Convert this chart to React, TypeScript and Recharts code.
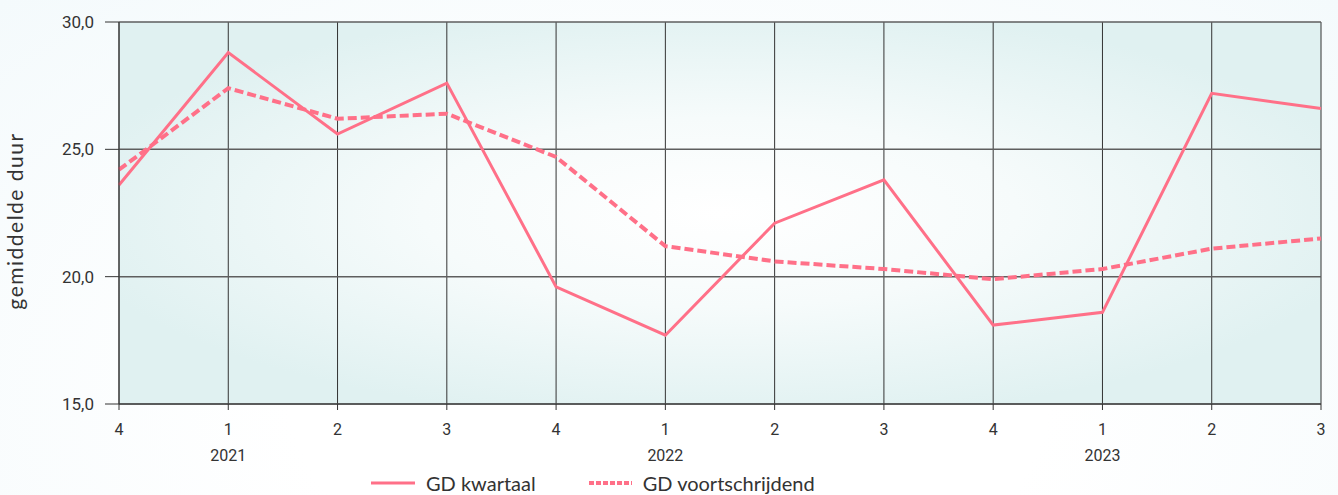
import {
  CartesianGrid,
  Legend,
  Line,
  LineChart,
  XAxis,
  YAxis,
} from "recharts";

const periods = [
  "2020-4", "2021-1", "2021-2", "2021-3", "2021-4", "2022-1",
  "2022-2", "2022-3", "2022-4", "2023-1", "2023-2", "2023-3",
];
const kwartaal = [23.6, 28.8, 25.6, 27.6, 19.6, 17.7, 22.1, 23.8, 18.1, 18.6, 27.2, 26.6];
const voortschrijdend = [24.2, 27.4, 26.2, 26.4, 24.7, 21.2, 20.6, 20.3, 19.9, 20.3, 21.1, 21.5];
const yTicks = [15, 20, 25, 30];

const PINK = "#ff7088";
const TEXT = "#333333";

const rows = periods.map((p, i) => ({
  period: p,
  kwartaal: kwartaal[i],
  voortschrijdend: voortschrijdend[i],
}));

const quarterOf = (p: string) => p.split("-")[1];
const yearOf = (p: string) => (quarterOf(p) === "1" ? p.split("-")[0] : "");
const fmt = (v: number) => v.toFixed(1).replace(".", ",");

function LegendContent() {
  const item = { display: "flex", alignItems: "center" } as const;
  return (
    <div
      style={{
        height: 31,
        display: "flex",
        justifyContent: "flex-start",
        paddingTop: 6,
        paddingLeft: 371,
        fontFamily: "Lato, sans-serif",
        fontSize: 20,
        color: TEXT,
        boxSizing: "border-box",
        overflow: "visible",
      }}
    >
      <div style={{ ...item, marginRight: 53 }}>
        <svg width={44} height={6} style={{ marginRight: 11 }}>
          <line x1={0} y1={3} x2={44} y2={3} stroke={PINK} strokeWidth={3} />
        </svg>
        GD kwartaal
      </div>
      <div style={item}>
        <svg width={43} height={6} style={{ marginRight: 11 }}>
          <line x1={0} y1={3} x2={43} y2={3} stroke={PINK} strokeWidth={4} strokeDasharray="5 2" />
        </svg>
        GD voortschrijdend
      </div>
    </div>
  );
}

export default function App() {
  return (
    <div
      style={{
        position: "absolute",
        left: 0,
        top: 0,
        width: 1338,
        height: 495,
        overflow: "hidden",
        background: "radial-gradient(ellipse at 50% 80%, #ffffff 40%, #f4fafc 100%)",
      }}
    >
      <LineChart
        width={1338}
        height={495}
        data={rows}
        margin={{ top: 22, right: 17, bottom: 0, left: 0 }}
      >
        <defs>
          <radialGradient id="plotBg" cx="50%" cy="50%" r="55%">
            <stop offset="0%" stopColor="#ffffff" />
            <stop offset="45%" stopColor="#f6fbfb" />
            <stop offset="100%" stopColor="#e0f1f1" />
          </radialGradient>
        </defs>
        <CartesianGrid
          horizontal={false}
          stroke="#333333"
          fill="url(#plotBg)"
          fillOpacity={1}
        />
        <CartesianGrid vertical={false} stroke="#5e5e5e" strokeWidth={1.5} />
        <XAxis
          dataKey="period"
          tickFormatter={quarterOf}
          height={30}
          tickSize={6}
          tickMargin={14}
          stroke="#333333"
          tick={{ fill: TEXT, fontSize: 16, fontFamily: "Roboto, sans-serif" }}
          interval={0}
        />
        <XAxis
          xAxisId="year"
          dataKey="period"
          tickFormatter={yearOf}
          height={30}
          tickSize={0}
          tickLine={false}
          axisLine={false}
          tickMargin={16}
          tick={{ fill: TEXT, fontSize: 16, fontFamily: "Roboto, sans-serif" }}
          interval={0}
        />
        <YAxis
          width={119}
          domain={[15, 30]}
          ticks={yTicks}
          tickFormatter={fmt}
          tickSize={14}
          tickMargin={11}
          stroke="#333333"
          tick={{ fill: TEXT, fontSize: 17, fontFamily: "Roboto, sans-serif" }}
          label={{
            value: "gemiddelde duur",
            angle: -90,
            position: "insideLeft",
            dx: 11,
            dy: 8,
            style: {
              fill: TEXT,
              fontSize: 21,
              letterSpacing: 1.5,
              fontFamily: "Lato, sans-serif",
              textAnchor: "middle",
            },
          }}
        />
        <Legend verticalAlign="bottom" height={31} content={<LegendContent />} />
        <Line
          type="linear"
          dataKey="kwartaal"
          name="GD kwartaal"
          stroke={PINK}
          strokeWidth={3}
          dot={false}
          activeDot={false}
          isAnimationActive={false}
        />
        <Line
          type="linear"
          dataKey="voortschrijdend"
          name="GD voortschrijdend"
          stroke={PINK}
          strokeWidth={4}
          strokeDasharray="9 4"
          dot={false}
          activeDot={false}
          isAnimationActive={false}
        />
      </LineChart>
    </div>
  );
}
